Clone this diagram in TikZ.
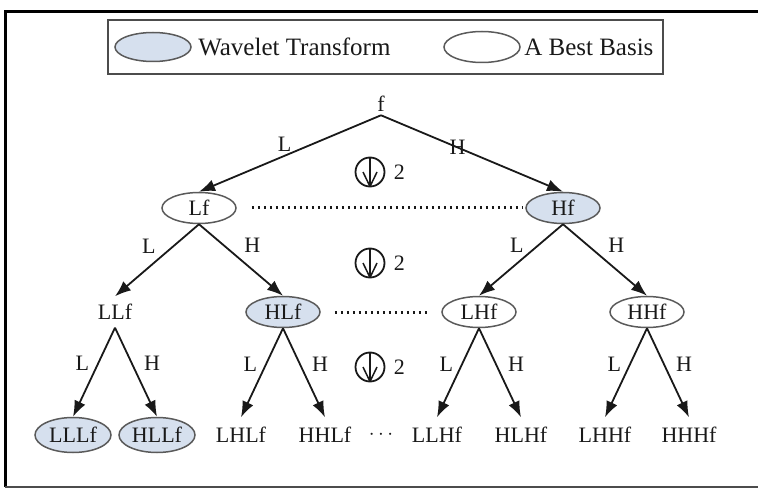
\documentclass[tikz,border=0pt]{standalone}
\usepackage{fontspec}
\setmainfont{Liberation Serif}
\usetikzlibrary{arrows.meta,shapes.geometric,positioning,fit,calc}
\definecolor{wtfill}{RGB}{214,224,238}
\definecolor{rimgray}{RGB}{90,90,90}
\definecolor{inkgray}{RGB}{25,25,25}

\begin{document}
\begin{tikzpicture}[
		x=1pt, y=1pt,
		every node/.style={font=\fontsize{22}{24}\selectfont, text=inkgray},
		tnode/.style={ellipse, minimum width=74pt, minimum height=31pt, inner sep=1pt},
		wt/.style={tnode, draw=rimgray, line width=1.5pt, fill=wtfill},
		bb/.style={tnode, draw=rimgray, line width=1.5pt},
		plain/.style={tnode},
		leaf/.style={minimum width=76pt, minimum height=35pt},
		keyfont/.style={font=\fontsize{25}{27}\selectfont},
		edge from parent/.style={draw, inkgray, line width=1.8pt, -{Latex[length=16pt,width=12pt]}},
		edge from parent path={(\tikzparentnode.south) -- (\tikzchildnode.north)},
		level 1/.style={sibling distance=364pt, level distance=104pt},
		level 2/.style={sibling distance=168pt, level distance=104pt},
		level 3/.style={sibling distance=84pt, level distance=123pt},
		dsamp/.style={circle, draw=inkgray, line width=1.8pt, minimum size=29pt, inner sep=0pt,
			label={[label distance=5pt]right:2},
			path picture={
				\draw[inkgray, line width=1.5pt] (path picture bounding box.north) -- (path picture bounding box.south);
				\draw[inkgray, line width=1.5pt] ([xshift=-7pt]path picture bounding box.center) -- (path picture bounding box.south) -- ([xshift=7pt]path picture bounding box.center);
			}},
		dotline/.style={inkgray, line width=3pt, dash pattern=on 2.5pt off 3.5pt}
		]
		\useasboundingbox (0,0) rectangle (758,-489);
		
		% frame
		\draw[line width=3pt, black] (758,-12) -- (5,-12) -- (5,-487);
		\draw[line width=2.5pt, black!70] (5,-487) -- (758,-487);
		
		% legend
		\node[wt, minimum width=76pt, minimum height=29pt] (wtkey) at (153,-47) {};
		\node[keyfont, right=3pt of wtkey] (wttext) {Wavelet Transform};
		\node[bb, minimum width=76pt, minimum height=31pt] (bbkey) at (482,-47) {};
		\node[keyfont, right=0pt of bbkey] (bbtext) {A Best Basis};
		\node[draw=black!70, line width=2.2pt, fit=(wtkey)(bbtext), inner xsep=6pt, inner ysep=12pt] (legend) {};
		
		\node (f) at (381,-104) {f}
		child { node[bb] (Lf) {Lf}
			child { node[plain] (LLf) {LLf}
				child { node[wt, leaf] (LLLf) {LLLf} edge from parent node[pos=.4, left=5pt] {L} }
				child { node[wt, leaf] (HLLf) {HLLf} edge from parent node[pos=.4, right=8pt] {H} }
				edge from parent node[pos=.3, left=14pt] {L}
			}
			child { node[wt] (HLf) {HLf}
				child { node[plain, leaf] (LHLf) {LHLf} edge from parent node[pos=.4, left=5pt] {L} }
				child { node[plain, leaf] (HHLf) {HHLf} edge from parent node[pos=.4, right=8pt] {H} }
				edge from parent node[pos=.3, right=16pt] {H}
			}
			edge from parent node[pos=.53, above] {L}
		}
		child { node[wt] (Hf) {Hf}
			child { node[bb] (LHf) {LHf}
				child { node[plain, leaf] (LLHf) {LLHf} edge from parent node[pos=.4, left=5pt] {L} }
				child { node[plain, leaf] (HLHf) {HLHf} edge from parent node[pos=.4, right=8pt] {H} }
				edge from parent node[pos=.3, left=10pt] {L}
			}
			child { node[bb] (HHf) {HHf}
				child { node[plain, leaf] (LHHf) {LHHf} edge from parent node[pos=.4, left=5pt] {L} }
				child { node[plain, leaf] (HHHf) {HHHf} edge from parent node[pos=.4, right=8pt] {H} }
				edge from parent node[pos=.3, right=16pt] {H}
			}
			edge from parent node[pos=.42] {H}
		};
		
		\draw[dotline, shorten <=15pt, shorten >=3pt] (Lf) -- (Hf);
		\draw[dotline, shorten <=14pt, shorten >=14pt] (HLf) -- (LHf);
		\node (more) at ($(HHLf)!.5!(LLHf)$) {$\cdots$};
		
		\node[dsamp] (ds1) at (370,-172) {};
		\node[dsamp] (ds2) at (370,-263) {};
		\node[dsamp] (ds3) at (370,-367) {};
		
	\end{tikzpicture}
\end{document}
